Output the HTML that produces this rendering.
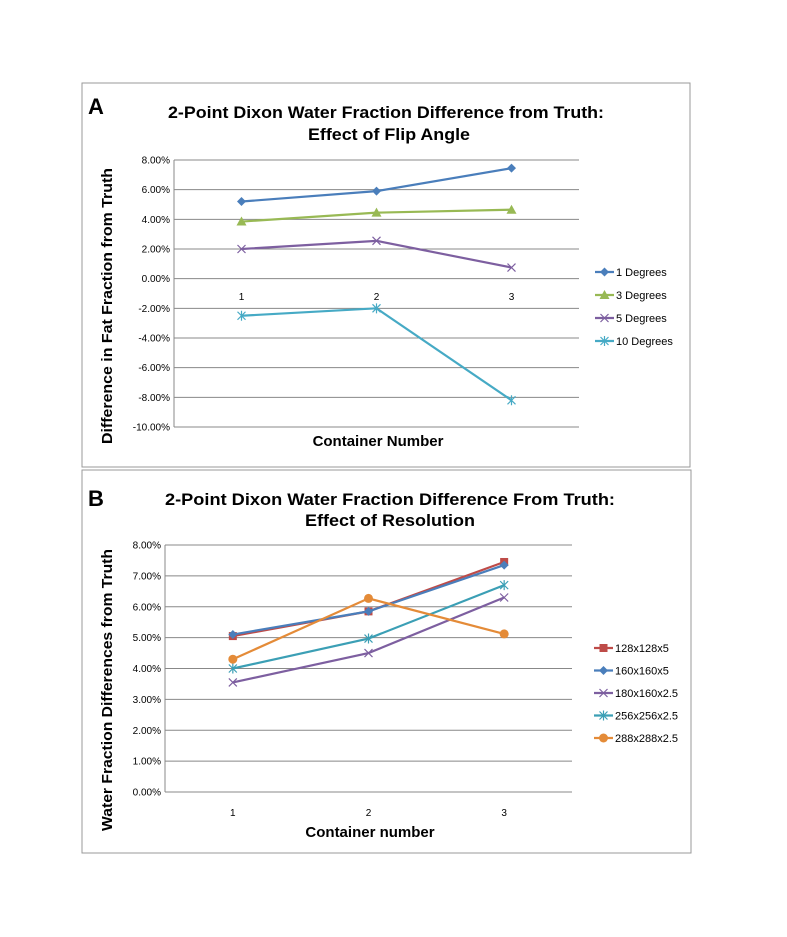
<!DOCTYPE html>
<html><head><meta charset="utf-8">
<style>
html,body{margin:0;padding:0;background:#fff;}
svg{display:block;font-family:"Liberation Sans",sans-serif;}
.t{font-weight:bold;font-size:17px;fill:#000;}
.tk{font-size:10px;fill:#000;}
.lg{font-size:11px;fill:#000;}
.ax{font-weight:bold;font-size:15px;fill:#000;}
</style></head><body>
<svg id="s" width="787" height="937" viewBox="0 0 787 937">
<rect x="82" y="83" width="608" height="384" fill="#fff" stroke="#999"/>
<rect x="82" y="470" width="609" height="383" fill="#fff" stroke="#999"/>
<text x="88" y="114" font-size="22" font-weight="bold">A</text>
<text x="88" y="506" font-size="22" font-weight="bold">B</text>
<text class="t" x="386" y="118" text-anchor="middle" textLength="436" lengthAdjust="spacingAndGlyphs">2-Point Dixon Water Fraction Difference from Truth:</text>
<text class="t" x="389" y="140" text-anchor="middle" textLength="162" lengthAdjust="spacingAndGlyphs">Effect of Flip Angle</text>
<text class="t" x="390" y="505" text-anchor="middle" textLength="450" lengthAdjust="spacingAndGlyphs">2-Point Dixon Water Fraction Difference From Truth:</text>
<text class="t" x="390" y="526" text-anchor="middle" textLength="170" lengthAdjust="spacingAndGlyphs">Effect of Resolution</text>
<text class="ax" x="378" y="446" text-anchor="middle">Container  Number</text>
<text class="ax" x="370" y="837" text-anchor="middle">Container number</text>
<text class="ax" transform="translate(112,306) rotate(-90)" text-anchor="middle" textLength="276" lengthAdjust="spacingAndGlyphs">Difference in Fat Fraction from Truth</text>
<text class="ax" transform="translate(112,690) rotate(-90)" text-anchor="middle" textLength="282" lengthAdjust="spacingAndGlyphs">Water Fraction Differences from Truth</text>
<g id="ga"></g><g id="gb"></g>
</svg>
<script>
const catsA=["1","2","3"];
const ticksA=[8,6,4,2,0,-2,-4,-6,-8,-10];
const namesA=["1 Degrees","3 Degrees","5 Degrees","10 Degrees"];
const deg1=[5.2,5.9,7.45];
const deg3=[3.85,4.45,4.65];
const deg5=[2.0,2.55,0.75];
const deg10=[-2.5,-2.0,-8.2];
const catsB=["1","2","3"];
const ticksB=[8,7,6,5,4,3,2,1,0];
const namesB=["128x128x5","160x160x5","180x160x2.5","256x256x2.5","288x288x2.5"];
const r128=[5.05,5.85,7.45];
const r160=[5.1,5.85,7.35];
const r180=[3.55,4.5,6.3];
const r256=[4.0,4.97,6.7];
const r288=[4.3,6.27,5.12];

const NS="http://www.w3.org/2000/svg";
function mk(p,tag,a){const e=document.createElementNS(NS,tag);for(const k in a)e.setAttribute(k,a[k]);p.appendChild(e);return e;}
function marker(g,type,x,y,c){
  let e;
  if(type==="diamond")e=mk(g,"path",{d:`M${x} ${y-4.5}L${x+4.5} ${y}L${x} ${y+4.5}L${x-4.5} ${y}Z`,fill:c});
  else if(type==="square")e=mk(g,"rect",{x:x-4,y:y-4,width:8,height:8,fill:c});
  else if(type==="tri")e=mk(g,"path",{d:`M${x} ${y-5}L${x+5} ${y+4}L${x-5} ${y+4}Z`,fill:c});
  else if(type==="circle")e=mk(g,"circle",{cx:x,cy:y,r:4.5,fill:c});
  else if(type==="x")e=mk(g,"path",{d:`M${x-4} ${y-4}L${x+4} ${y+4}M${x-4} ${y+4}L${x+4} ${y-4}`,stroke:c,"stroke-width":1.2,fill:"none"});
  else e=mk(g,"path",{d:`M${x-4} ${y-4}L${x+4} ${y+4}M${x-4} ${y+4}L${x+4} ${y-4}M${x} ${y-5}L${x} ${y+5}`,stroke:c,"stroke-width":1.2,fill:"none"});
  
  
}
function chart(g,cfg){
  const y=v=>cfg.y0+(cfg.top-v)*(cfg.y1-cfg.y0)/(cfg.top-cfg.bot);
  const x=i=>cfg.x0+(i+0.5)*(cfg.x1-cfg.x0)/cfg.cats.length;
  cfg.ticks.forEach(t=>{
    const l=mk(g,"line",{x1:cfg.x0,x2:cfg.x1,y1:y(t),y2:y(t),stroke:"#888","stroke-width":1});
    
    
    const tx=mk(g,"text",{x:cfg.x0-4,y:y(t)+3.5,"text-anchor":"end",class:"tk"});
    tx.textContent=t.toFixed(2)+"%";
    
    
  });
  const ax=mk(g,"line",{x1:cfg.x0,x2:cfg.x0,y1:cfg.y0,y2:cfg.y1,stroke:"#888"});
  
  
  cfg.cats.forEach((c,i)=>{
    const tx=mk(g,"text",{x:x(i),y:cfg.catY,"text-anchor":"middle",class:"tk"});
    tx.textContent=c;
    
    
  });
  cfg.series.forEach((s,k)=>{
    const pts=s.v.map((v,i)=>x(i)+","+y(v)).join(" ");
    const pl=mk(g,"polyline",{points:pts,fill:"none",stroke:s.c,"stroke-width":2.2});
    
    
    s.v.forEach((v,i)=>marker(g,s.m,x(i),y(v),s.c));
    const ly=cfg.legY+k*cfg.legDy;
    const ll=mk(g,"line",{x1:cfg.legX,x2:cfg.legX+19,y1:ly,y2:ly,stroke:s.c,"stroke-width":2.2});
    
    
    marker(g,s.m,cfg.legX+9.5,ly,s.c);
    const lt=mk(g,"text",{x:cfg.legX+21,y:ly+4,class:"lg"});
    lt.textContent=s.n;
    
    
  });
}
chart(document.getElementById("ga"),{x0:174,x1:579,y0:160,y1:427,top:8,bot:-10,ticks:ticksA,cats:catsA,catY:300,legX:595,legY:272,legDy:23,
  series:[{n:namesA[0],v:deg1,c:"#4a7ebb",m:"diamond"},{n:namesA[1],v:deg3,c:"#98b954",m:"tri"},{n:namesA[2],v:deg5,c:"#7d5fa0",m:"x"},{n:namesA[3],v:deg10,c:"#46aac5",m:"star"}]});
chart(document.getElementById("gb"),{x0:165,x1:572,y0:545,y1:792,top:8,bot:0,ticks:ticksB,cats:catsB,catY:816,legX:594,legY:648,legDy:22.5,
  series:[{n:namesB[0],v:r128,c:"#be4b48",m:"square"},{n:namesB[1],v:r160,c:"#4a7ebb",m:"diamond"},{n:namesB[2],v:r180,c:"#7d5fa0",m:"x"},{n:namesB[3],v:r256,c:"#3b9fb5",m:"star"},{n:namesB[4],v:r288,c:"#e48b38",m:"circle"}]});
</script>
</body></html>
